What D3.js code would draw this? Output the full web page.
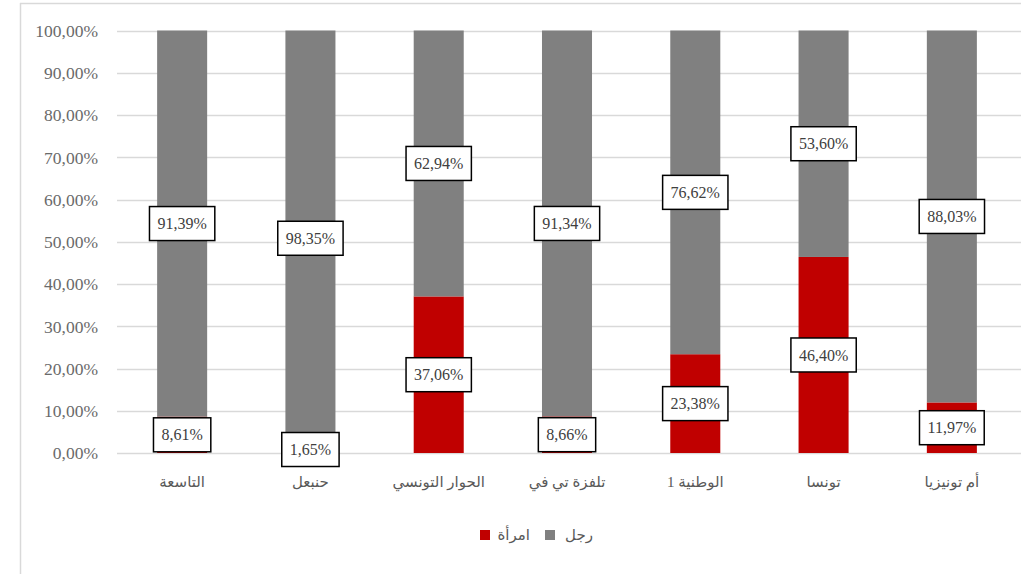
<!DOCTYPE html>
<html><head><meta charset="utf-8">
<script src="https://cdn.jsdelivr.net/npm/d3@7"></script>
<style>body{margin:0;background:#fff;} svg{display:block;}</style>
</head><body>
<svg id="c" width="1021" height="574"></svg>
<script>
const categories = ["التاسعة","حنبعل","الحوار التونسي","تلفزة تي في","الوطنية 1","تونسا","أم تونيزيا"];
const women = [8.61, 1.65, 37.06, 8.66, 23.38, 46.40, 11.97];
const men = [91.39, 98.35, 62.94, 91.34, 76.62, 53.60, 88.03];
const yTicks = [0,10,20,30,40,50,60,70,80,90,100];
const seriesNames = ["امرأة","رجل"];
const seriesColors = ["#c00000","#808080"];

const svg = d3.select("#c");
const serif = "'Liberation Serif','Times New Roman','DejaVu Serif',serif";
const arab = "'Liberation Serif','DejaVu Sans',serif";

// frame
svg.append("line").attr("x1",20.5).attr("x2",20.5).attr("y1",3).attr("y2",574).attr("stroke","#d9d9d9").attr("stroke-width",1.5);
svg.append("line").attr("x1",20).attr("x2",1021).attr("y1",3.5).attr("y2",3.5).attr("stroke","#d9d9d9").attr("stroke-width",1.5);

const x = d3.scaleBand().domain(categories).range([118,1016]).paddingInner(0.61).paddingOuter(0.305);
const y = d3.scaleLinear().domain([0,100]).range([453,30.5]);

// grid
svg.append("g").selectAll("line").data(yTicks).join("line")
  .attr("x1",117).attr("x2",1021).attr("y1",d=>Math.round(y(d))+0.5).attr("y2",d=>Math.round(y(d))+0.5)
  .attr("stroke","#d9d9d9").attr("stroke-width",1.3);

// y axis labels
const fmt = v => d3.format(".2f")(v).replace(".",",") + "%";
const yAxis = d3.axisLeft(y).tickValues(yTicks).tickFormat(fmt).tickSize(0).tickPadding(0);
const ga = svg.append("g").attr("transform","translate(98,0)").call(yAxis);
ga.select(".domain").remove();
ga.selectAll("text").attr("font-family",serif).attr("font-size",17.5).attr("fill","#6a6a6a").attr("dy","0.34em");

// bars
const stack = categories.map((c,i)=>({c, w:women[i], m:men[i]}));
const gb = svg.append("g");
gb.selectAll("rect.w").data(stack).join("rect").attr("class","w")
  .attr("x",d=>x(d.c)).attr("width",x.bandwidth())
  .attr("y",d=>y(d.w)).attr("height",d=>y(0)-y(d.w)).attr("fill",seriesColors[0]);
gb.selectAll("rect.m").data(stack).join("rect").attr("class","m")
  .attr("x",d=>x(d.c)).attr("width",x.bandwidth())
  .attr("y",d=>y(d.w+d.m)).attr("height",d=>y(d.w)-y(d.w+d.m)).attr("fill",seriesColors[1]);

// labels
const labels = [];
stack.forEach(d=>{
  labels.push({c:d.c, v:d.m, mid:d.w + d.m/2});
  labels.push({c:d.c, v:d.w, mid:d.w/2});
});
const gl = svg.append("g");
labels.forEach(l=>{
  const cx = x(l.c)+x.bandwidth()/2, cy = y(l.mid);
  const g = gl.append("g");
  const r = g.append("rect");
  const t = g.append("text").attr("x",cx).attr("y",cy).attr("dy","0.35em").attr("text-anchor","middle")
    .attr("font-family",serif).attr("font-size",16).attr("fill","#404040").text(fmt(l.v));
  const w = t.node().getComputedTextLength() + 16, h = 34;
  r.attr("x",cx-w/2).attr("y",cy-h/2).attr("width",w).attr("height",h)
    .attr("fill","#fff").attr("stroke","#000").attr("stroke-width",1.5);
});

// category labels
const xAxis = d3.axisBottom(x).tickSize(0).tickPadding(0);
const gx = svg.append("g").attr("transform","translate(0,482)").call(xAxis);
gx.select(".domain").remove();
gx.selectAll("text").attr("font-family",arab).attr("font-size",15).attr("fill","#595959").attr("dy","0.35em").attr("direction","rtl").attr("text-anchor","middle");

// legend
const lg = svg.append("g");
const legendItems = [
  {name:seriesNames[0], color:seriesColors[0], sx:480, tx:530},
  {name:seriesNames[1], color:seriesColors[1], sx:545, tx:593}
];
legendItems.forEach(it=>{
  lg.append("rect").attr("x",it.sx).attr("y",530).attr("width",10).attr("height",10).attr("fill",it.color);
  lg.append("text").attr("x",it.tx).attr("y",535).attr("dy","0.35em").attr("text-anchor","end")
    .attr("font-family",arab).attr("font-size",15).attr("fill","#595959").text(it.name);
});
</script>
</body></html>
